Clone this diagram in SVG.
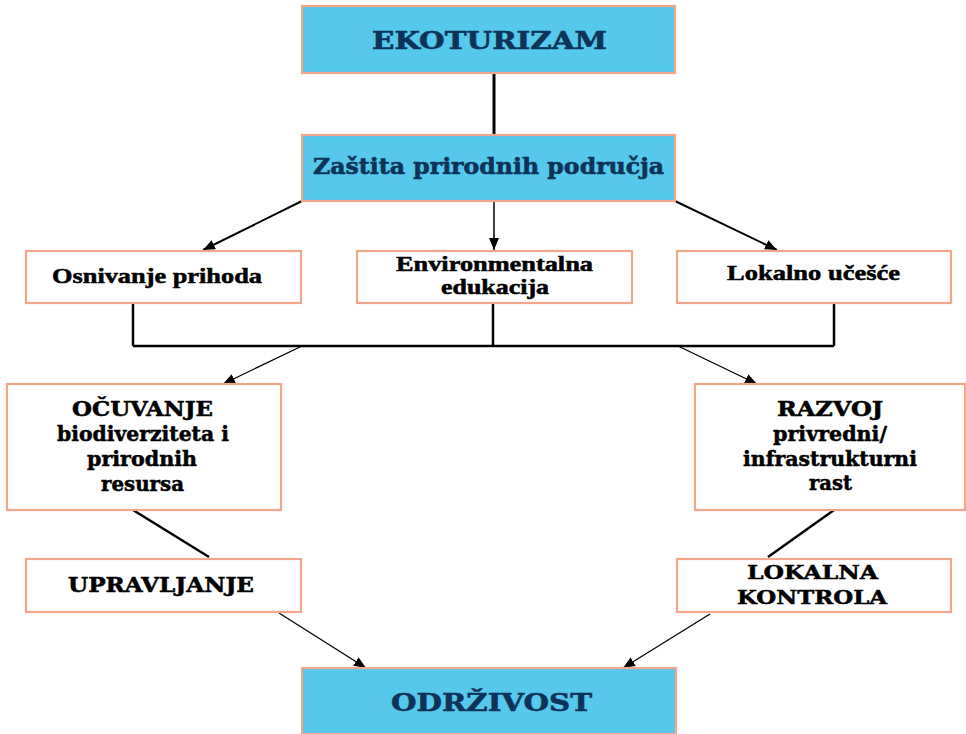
<svg xmlns="http://www.w3.org/2000/svg" width="966" height="734" viewBox="0 0 966 734">
<style>
.box{fill:#ffffff;stroke:#f4a68a;stroke-width:2.2}
.blue{fill:#55c8eb;stroke:#f4a68a;stroke-width:2.2}
.t{font-family:"DejaVu Serif","Liberation Serif",serif;font-weight:bold;fill:#000000;stroke:#000000;stroke-width:0.5}
.tn{font-family:"DejaVu Serif","Liberation Serif",serif;font-weight:bold;fill:#0e3358;stroke:#0e3358;stroke-width:0.6}
.tr{font-family:"Liberation Serif","Times New Roman",serif;font-weight:bold;fill:#000000;stroke:#000000;stroke-width:0.5}
.c{stroke:#000000;fill:none}
</style>
<defs>
<marker id="ah" markerUnits="userSpaceOnUse" markerWidth="12" markerHeight="10" refX="12" refY="5" orient="auto">
<path d="M0,0 L12,5 L0,10 z" fill="#000000"/>
</marker>
</defs>
<rect width="966" height="734" fill="#ffffff"/>
<g id="connectors">
<line class="c" x1="494" y1="73" x2="494" y2="135" stroke-width="3"/>
<line class="c" x1="302" y1="201" x2="203" y2="250" stroke-width="2" marker-end="url(#ah)"/>
<line class="c" x1="494" y1="201" x2="494" y2="250" stroke-width="1.5" marker-end="url(#ah)"/>
<line class="c" x1="675" y1="201" x2="777" y2="250" stroke-width="2" marker-end="url(#ah)"/>
<path class="c" d="M133,303 V346 M493,303 V346 M834,303 V346 M133,346 H834" stroke-width="2.5"/>
<line class="c" x1="302" y1="346" x2="223" y2="384" stroke-width="1.3" marker-end="url(#ah)"/>
<line class="c" x1="678" y1="346" x2="757" y2="384" stroke-width="1.3" marker-end="url(#ah)"/>
<line class="c" x1="133" y1="510" x2="209" y2="557" stroke-width="2.5"/>
<line class="c" x1="834" y1="510" x2="768" y2="557" stroke-width="2.5"/>
<line class="c" x1="279" y1="613" x2="366" y2="668" stroke-width="1.3" marker-end="url(#ah)"/>
<line class="c" x1="710" y1="614" x2="623" y2="668" stroke-width="1.3" marker-end="url(#ah)"/>
</g>
<g id="ekoturizam">
<rect class="blue" x="302" y="6" width="373" height="67"/>
<text class="tn" x="372" y="49" font-size="23.5" textLength="235" lengthAdjust="spacingAndGlyphs">EKOTURIZAM</text>
</g>
<g id="zastita">
<rect class="blue" x="302" y="135" width="373" height="66"/>
<text class="tn" x="313" y="174" font-size="23" textLength="351" lengthAdjust="spacingAndGlyphs">Zaštita prirodnih područja</text>
</g>
<g id="osnivanje">
<rect class="box" x="26" y="251" width="275" height="52"/>
<text class="tr" x="52" y="283" font-size="21" textLength="210" lengthAdjust="spacingAndGlyphs">Osnivanje prihoda</text>
</g>
<g id="edukacija">
<rect class="box" x="357" y="251" width="275" height="52"/>
<text class="tr" x="396" y="271" font-size="20" textLength="197" lengthAdjust="spacingAndGlyphs">Environmentalna</text>
<text class="tr" x="441" y="294" font-size="20" textLength="108" lengthAdjust="spacingAndGlyphs">edukacija</text>
</g>
<g id="ucesce">
<rect class="box" x="677" y="251" width="274" height="52"/>
<text class="tr" x="727" y="280" font-size="21" textLength="173" lengthAdjust="spacingAndGlyphs">Lokalno učešće</text>
</g>
<g id="ocuvanje">
<rect class="box" x="7" y="384" width="274" height="126"/>
<text class="t" x="72" y="416" font-size="19.5" textLength="141" lengthAdjust="spacingAndGlyphs">OČUVANJE</text>
<text class="t" x="57" y="441" font-size="19.5" textLength="172" lengthAdjust="spacingAndGlyphs">biodiverziteta i</text>
<text class="t" x="87" y="466" font-size="19.5" textLength="110" lengthAdjust="spacingAndGlyphs">prirodnih</text>
<text class="t" x="101" y="491" font-size="19.5" textLength="83" lengthAdjust="spacingAndGlyphs">resursa</text>
</g>
<g id="razvoj">
<rect class="box" x="695" y="384" width="270" height="126"/>
<text class="t" x="777" y="416" font-size="19.5" textLength="106" lengthAdjust="spacingAndGlyphs">RAZVOJ</text>
<text class="t" x="773" y="441" font-size="19.5" textLength="114" lengthAdjust="spacingAndGlyphs">privredni/</text>
<text class="t" x="743" y="466" font-size="19.5" textLength="174" lengthAdjust="spacingAndGlyphs">infrastrukturni</text>
<text class="t" x="809" y="490" font-size="19.5" textLength="43" lengthAdjust="spacingAndGlyphs">rast</text>
</g>
<g id="upravljanje">
<rect class="box" x="26" y="559" width="275" height="53"/>
<text class="t" x="68" y="592" font-size="19.5" textLength="186" lengthAdjust="spacingAndGlyphs">UPRAVLJANJE</text>
</g>
<g id="kontrola">
<rect class="box" x="677" y="559" width="274" height="53"/>
<text class="t" x="747" y="579" font-size="19" textLength="131" lengthAdjust="spacingAndGlyphs">LOKALNA</text>
<text class="t" x="737" y="604" font-size="19" textLength="150" lengthAdjust="spacingAndGlyphs">KONTROLA</text>
</g>
<g id="odrzivost">
<rect class="blue" x="302" y="668" width="374" height="66"/>
<text class="tn" x="391" y="711" font-size="25" textLength="201" lengthAdjust="spacingAndGlyphs">ODRŽIVOST</text>
</g>
</svg>
